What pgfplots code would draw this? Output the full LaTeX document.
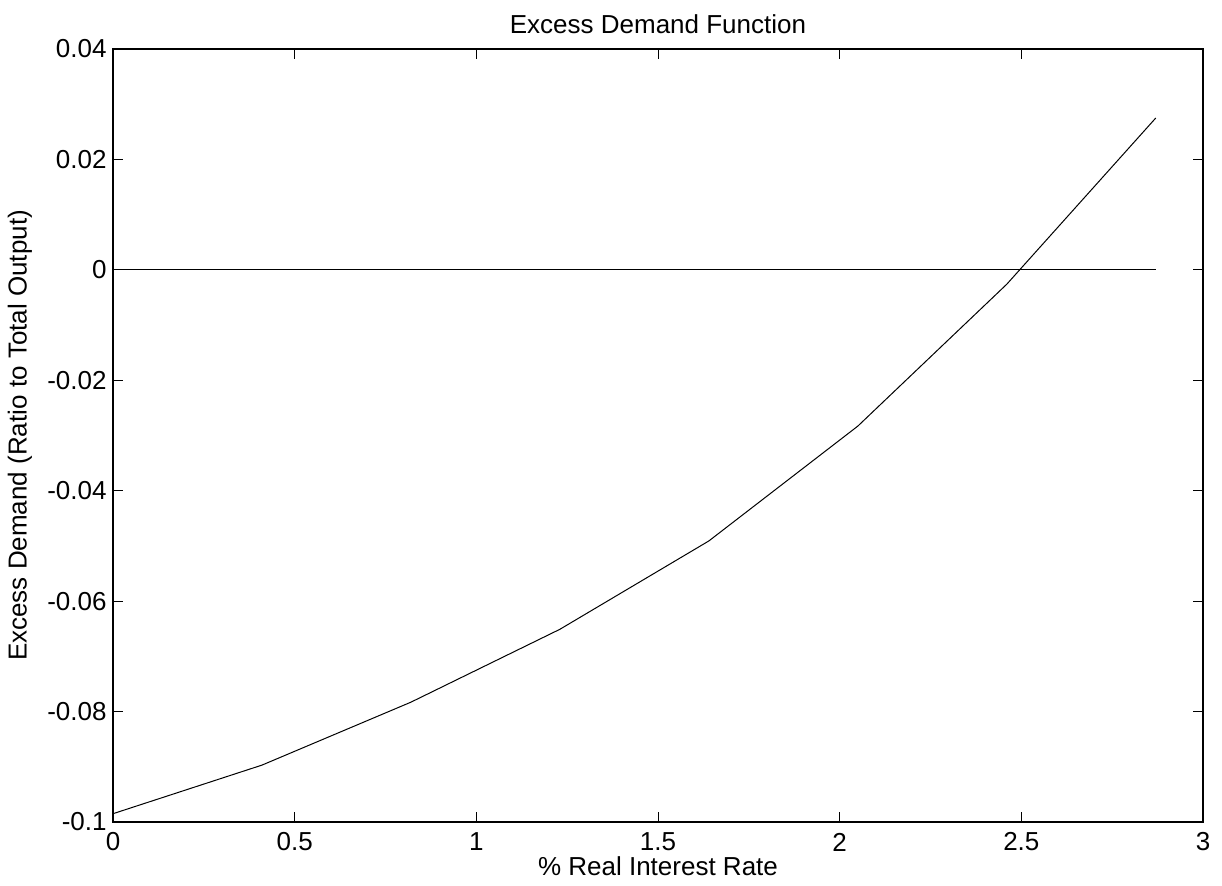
\documentclass[border=0pt]{standalone}
\usepackage{pgfplots}
\pgfplotsset{compat=1.18}
\usepackage{fontspec}
\setmainfont{Liberation Sans}
\begin{document}
\fontsize{13}{15}\selectfont
\begin{tikzpicture}
\pgfplotsset{every axis title shift=0pt}
\begin{axis}[
  scale only axis, width=545pt, height=386.5pt,
  xmin=0, xmax=3, ymin=-0.1, ymax=0.04,
  xtick={0,0.5,1,1.5,2,2.5,3},
  xticklabels={0,0.5,1,1.5,2,2.5,3},
  ytick={-0.1,-0.08,-0.06,-0.04,-0.02,0,0.02,0.04},
  yticklabels={-0.1,-0.08,-0.06,-0.04,-0.02,0,0.02,0.04},
  tick align=inside, tick pos=both, major tick length=5pt,
  tick style={black, line width=0.5pt},
  axis line style={black, line width=0.7pt},
  /pgf/number format/assume math mode=true,
  ticklabel style={font=\fontsize{13}{15}\selectfont},
  xticklabel style={anchor=center, inner sep=0pt, yshift=-10pt},
  yticklabel style={anchor=east, inner sep=0pt, xshift=-3pt},
  title={Excess Demand Function},
  title style={at={(axis description cs:0.5,1)}, anchor=center, yshift=12.5pt, font=\fontsize{13}{15}\selectfont},
  xlabel={\% Real Interest Rate},
  xlabel style={at={(axis description cs:0.5,0)}, anchor=center, inner sep=0pt, yshift=-22pt, font=\fontsize{13}{15}\selectfont},
  ylabel={Excess Demand (Ratio to Total Output)},
  ylabel style={at={(axis description cs:0,0.5)}, anchor=center, rotate=0, yshift=46.5pt, font=\fontsize{13}{15}\selectfont},
  clip=false,
]
\coordinate (SW) at (rel axis cs:0,0);
\coordinate (NE) at (rel axis cs:1,1);
\addplot[black, line width=0.5pt] coordinates {(0,0) (2.87,0)};
\addplot[black, line width=0.5pt] coordinates {
  (0,-0.0985) (0.41,-0.0897) (0.82,-0.0783) (1.23,-0.0651)
  (1.64,-0.0491) (2.05,-0.0283) (2.46,-0.0026) (2.87,0.0275)};
\end{axis}
\pgfresetboundingbox
\path ([xshift=-56.5pt,yshift=-32pt]SW) rectangle ([xshift=9.5pt,yshift=24.5pt]NE);
\end{tikzpicture}
\end{document}
